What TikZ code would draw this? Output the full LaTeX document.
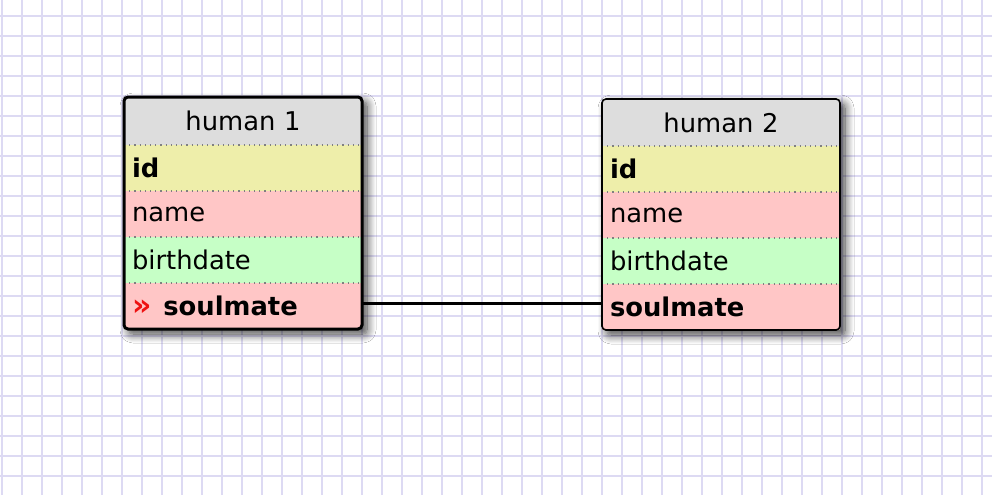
\documentclass[tikz,border=0pt]{standalone}
\usepackage{fontspec}
\setmainfont{DejaVu Sans}
\usetikzlibrary{positioning,fit,backgrounds,shadows.blur}
\definecolor{gridcol}{HTML}{DDDAF3}
\definecolor{headcol}{HTML}{DDDDDD}
\definecolor{idcol}{HTML}{EEEEAA}
\definecolor{redcol}{HTML}{FFC6C6}
\definecolor{greencol}{HTML}{C6FFC6}
\definecolor{arrowred}{HTML}{EE1111}

\tikzset{
  field/.style={minimum width=119pt, minimum height=23pt, inner sep=0pt, inner xsep=4pt, outer sep=0pt,
    text width=111pt, align=left, font=\fontsize{12.9}{14}\selectfont},
  head/.style={field, minimum height=24pt, align=center, fill=headcol},
  sep/.style={draw=gray, dotted, line width=0.6pt},
  gridline/.style={draw=gridcol, line width=1pt},
  table/.style={draw, inner sep=0pt, rounded corners=2pt},
  tshadow/.style={blur shadow={shadow xshift=2.5pt, shadow yshift=-2.5pt, shadow opacity=75, shadow blur steps=10, shadow blur radius=4.5pt}},
}

\begin{document}
\begin{tikzpicture}[x=0.5pt,y=-0.5pt]
  \useasboundingbox (0,0) rectangle (992,495);

  % human 1
  \node[head] (h1head) at (243,121) {human 1};
  \node[field, fill=idcol, below=0pt of h1head] (h1id) {\textbf{id}};
  \node[field, fill=redcol, below=0pt of h1id] (h1name) {name};
  \node[field, fill=greencol, below=0pt of h1name] (h1birth) {birthdate};
  \node[field, fill=redcol, below=0pt of h1birth] (h1soul)
    {\textcolor{arrowred}{\fontsize{15}{15}\selectfont\textbf{»}}\hspace{6pt}\textbf{soulmate}};

  % human 2
  \node[head, minimum height=23.5pt] (h2head) at (721,122.5) {human 2};
  \node[field, fill=idcol, below=0pt of h2head] (h2id) {\textbf{id}};
  \node[field, fill=redcol, below=0pt of h2id] (h2name) {name};
  \node[field, fill=greencol, below=0pt of h2name] (h2birth) {birthdate};
  \node[field, fill=redcol, below=0pt of h2birth] (h2soul) {\textbf{soulmate}};

  \foreach \t in {h1,h2}
    \foreach \r in {id,name,birth,soul}
      \draw[sep] (\t\r.north west) -- (\t\r.north east);

  \begin{scope}[on background layer]
    \fill[white] (0,0) rectangle (992,495);
    \foreach \gx in {1.8,21.8,...,991}
      \draw[gridline] (\gx,0) -- (\gx,495);
    \foreach \gy in {15.5,35.5,...,495}
      \draw[gridline] (0,\gy) -- (992,\gy);
    \node[fit=(h1head)(h1soul), table, fill=white, tshadow] {};
    \node[fit=(h2head)(h2soul), table, fill=white, tshadow] {};
  \end{scope}

  \node[fit=(h1head)(h1soul), table, line width=1.5pt] (human1) {};
  \node[fit=(h2head)(h2soul), table, line width=0.8pt] (human2) {};

  \draw[line width=1.5pt] ([yshift=1.5pt]h1soul.east) -- ([yshift=1.5pt]h1soul.east -| h2soul.west);
\end{tikzpicture}
\end{document}
